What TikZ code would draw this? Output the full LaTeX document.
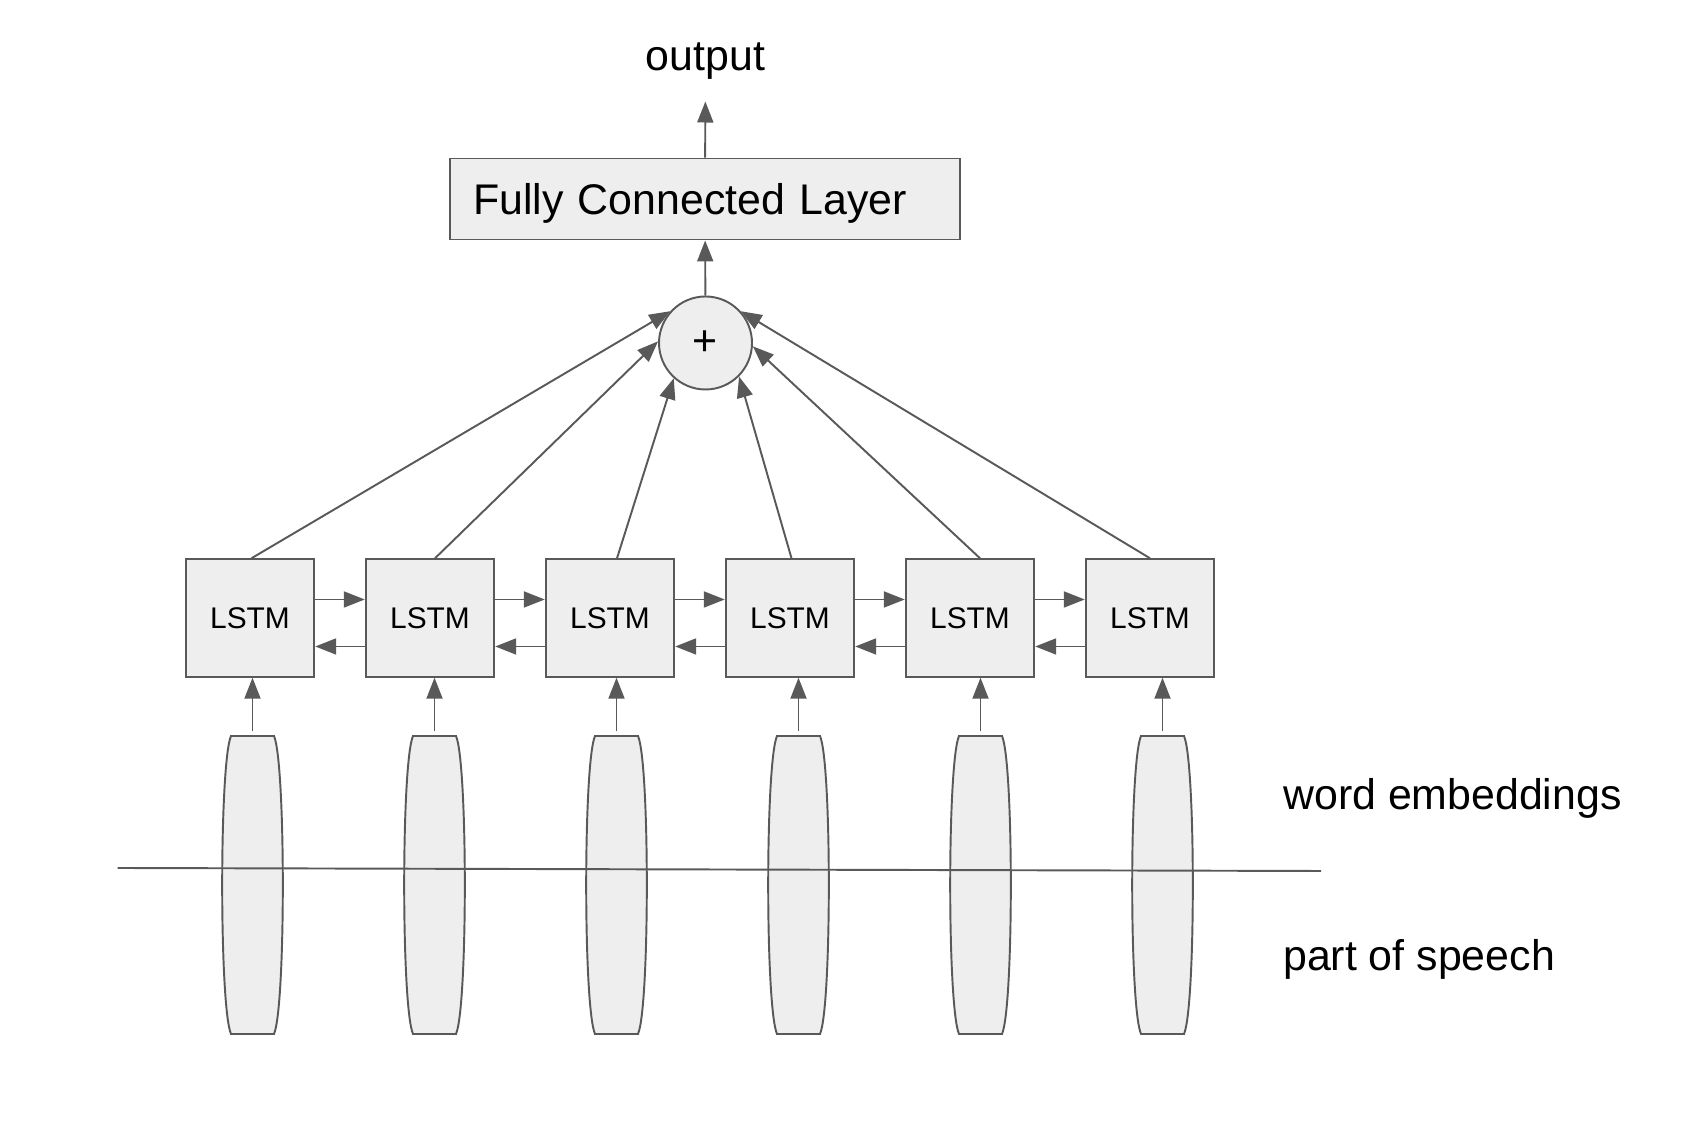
\documentclass[tikz,border=0pt]{standalone}
\usepackage{fontspec}
\setmainfont{Liberation Sans}
\usetikzlibrary{arrows.meta}
\definecolor{linegray}{HTML}{595959}
\definecolor{boxgray}{HTML}{EEEEEE}

\begin{document}
\begin{tikzpicture}[
  box/.style={draw=linegray, line width=1.1pt, fill=boxgray},
  lstm/.style={box, minimum width=2.57cm, minimum height=2.35cm, inner sep=0pt, font=\fontsize{17}{20}\selectfont},
  arr/.style={draw=linegray, line width=1.1pt, -{Triangle[length=0.42cm,width=0.32cm]}},
  big/.style={font=\fontsize{24.4}{29}\selectfont}
]
  \useasboundingbox (0,0) rectangle (33.84,22.76);

  % Output and fully connected layer
  \node[big] (out) at (14.11,21.53) {output};
  \node[box, big, minimum width=10.2cm, minimum height=1.62cm, text width=9.28cm, inner xsep=0.46cm, text depth=0pt, align=left] (fc) at (14.1,18.78) {Fully Connected Layer};
  \draw[arr, shorten >=0.31cm] (fc) -- (out);

  % Sum node
  \node[box, circle, big, minimum size=1.86cm, inner sep=0pt] (sum) at (14.11,15.90) {+};
  \draw[arr] (sum) -- (fc);

  % LSTM row
  \foreach \i in {1,...,6}
    \node[lstm] (l\i) at ({5.0+3.6*(\i-1)},10.40) {LSTM};
  \foreach \i [count=\j from 2] in {1,...,5} {
    \draw[arr] ([yshift=0.37cm]l\i.east) -- ([yshift=0.37cm]l\j.west);
    \draw[arr] ([yshift=-0.57cm]l\j.west) -- ([yshift=-0.57cm]l\i.east);
  }

  % LSTM outputs into the sum
  \foreach \i/\a/\dx in {1/138/0.03, 2/178/0.1, 3/228/0.14, 4/315/0.03, 5/356/0.2, 6/42/0}
    \draw[arr] ([xshift=\dx cm]l\i.north) -- (sum.\a);

  % Embedding vectors
  \foreach \i in {1,...,6} {
    \pgfmathsetmacro\ex{5.05+3.64*(\i-1)}
    \filldraw[box] (\ex-0.43,8.04) -- (\ex+0.43,8.04)
      .. controls (\ex+0.665,7.5) and (\ex+0.665,2.62) .. (\ex+0.43,2.08)
      -- (\ex-0.43,2.08)
      .. controls (\ex-0.665,2.62) and (\ex-0.665,7.5) .. cycle;
    \coordinate (e\i) at (\ex,8.04);
    \draw[arr, shorten <=0.09cm] (e\i) -- (e\i |- l\i.south);
  }

  % Split line
  \draw[draw=linegray, line width=1.1pt] (2.35,5.40) -- (26.42,5.34);
  \node[big, anchor=west] (we) at (25.54,6.80) {word embeddings};
  \node[big, anchor=west] (pos) at (25.54,3.58) {part of speech};
\end{tikzpicture}
\end{document}
